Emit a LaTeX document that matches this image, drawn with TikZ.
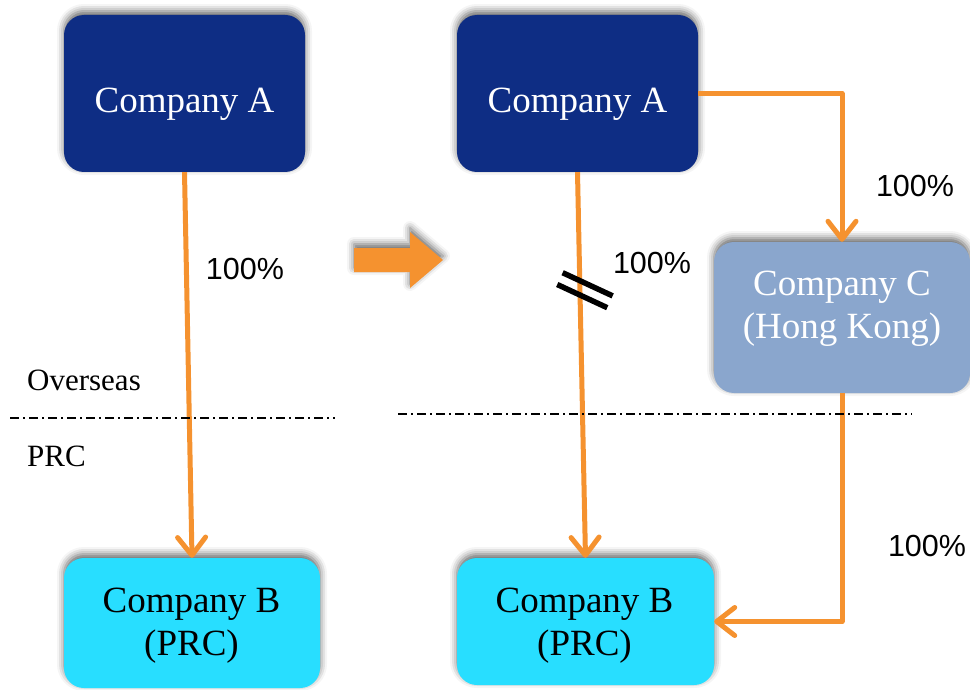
\documentclass[tikz,border=0pt]{standalone}
\usepackage{fontspec}
\setmainfont{Liberation Serif}
\newfontfamily\pctfont{Liberation Sans}
\usetikzlibrary{arrows.meta,shadows.blur,calc}

\definecolor{navyA}{HTML}{0E2D84}
\definecolor{cyanB}{HTML}{28DEFF}
\definecolor{steelC}{HTML}{8AA6CD}
\definecolor{linkorange}{HTML}{F5922F}

\tikzset{
  softshadow/.style={blur shadow={shadow xshift=0pt, shadow yshift=4pt,
      shadow blur radius=7pt, shadow opacity=60}},
  company/.style={draw=none, rounded corners=20pt, inner sep=0pt, softshadow},
  boxtext/.style={anchor=base, inner sep=0pt, font=\fontsize{37}{43}\selectfont},
  pct/.style={inner sep=0pt, font=\pctfont\fontsize{30.5}{35}\selectfont},
  region/.style={anchor=base west, inner sep=0pt, font=\fontsize{31}{36}\selectfont},
  link/.style={draw=linkorange, line width=5pt, line join=round,
    -{Straight Barb[length=18pt,width=28pt,round]}},
  border/.style={line width=1.6pt, dash pattern=on 9pt off 4pt on 2pt off 4pt},
  breakmark/.style={line width=5.5pt}
}

\begin{document}
\begin{tikzpicture}[x=1pt, y=-1pt]
\useasboundingbox (0,0) rectangle (970,690);

% ---- before: direct holding ----
\node[company, fill=navyA, minimum width=241pt, minimum height=157pt] (A1) at (184.5,93.5) {};
\node[boxtext, text=white] (A1t) at (184.5,113) {Company A};

\node[company, fill=cyanB, minimum width=256pt, minimum height=130pt] (B1) at (192,623) {};
\node[boxtext] (B1t) at (191.5,612) {Company B};
\node[boxtext] (B1p) at (191.5,655) {(PRC)};

\draw[link] (A1.south) -- (B1.north);
\node[pct] (p1) at (245,269) {100\%};

\node[region] (os) at (27,390) {Overseas};
\node[region] (prc) at (27,466) {PRC};
\draw[border] (10,418) -- (335,418);

% ---- transition arrow ----
\fill[linkorange, softshadow]
  (354,248) -- (410,248) -- (410,232) -- (443,260) -- (410,288)
  -- (410,272) -- (354,272) -- cycle;

% ---- after: holding through Hong Kong ----
\node[company, fill=navyA, minimum width=241pt, minimum height=157pt] (A2) at (577.5,93.5) {};
\node[boxtext, text=white] (A2t) at (577.5,113) {Company A};

\node[company, fill=steelC, minimum width=256pt, minimum height=151pt] (C) at (842,317.5) {};
\node[boxtext, text=white] (Ct) at (842,295) {Company C};
\node[boxtext, text=white] (Cp) at (842,338) {(Hong Kong)};

\node[company, fill=cyanB, minimum width=257pt, minimum height=127pt] (B2) at (585.5,621.5) {};
\node[boxtext] (B2t) at (584.5,612) {Company B};
\node[boxtext] (B2p) at (584.5,655) {(PRC)};

\draw[link] (A2.south) -- coordinate[pos=0.306] (cut) (B2.north);
\draw[link] (A2.east) -| (C.north);
\draw[link] (C.south) |- (B2.east);

% severed-link mark
\coordinate (cm) at ($(cut)+(5,0)$);
\draw[breakmark] ($(cm)+(2.7,-5.9)+(-25,-11.6)$) -- ($(cm)+(2.7,-5.9)+(25,11.6)$);
\draw[breakmark] ($(cm)+(-2.7,5.9)+(-25,-11.6)$) -- ($(cm)+(-2.7,5.9)+(25,11.6)$);

\node[pct] (p2) at (652,263) {100\%};
\node[pct] (p3) at (915,186) {100\%};
\node[pct] (p4) at (927,546) {100\%};

\draw[border] (398,414) -- (912,414);
\end{tikzpicture}
\end{document}
